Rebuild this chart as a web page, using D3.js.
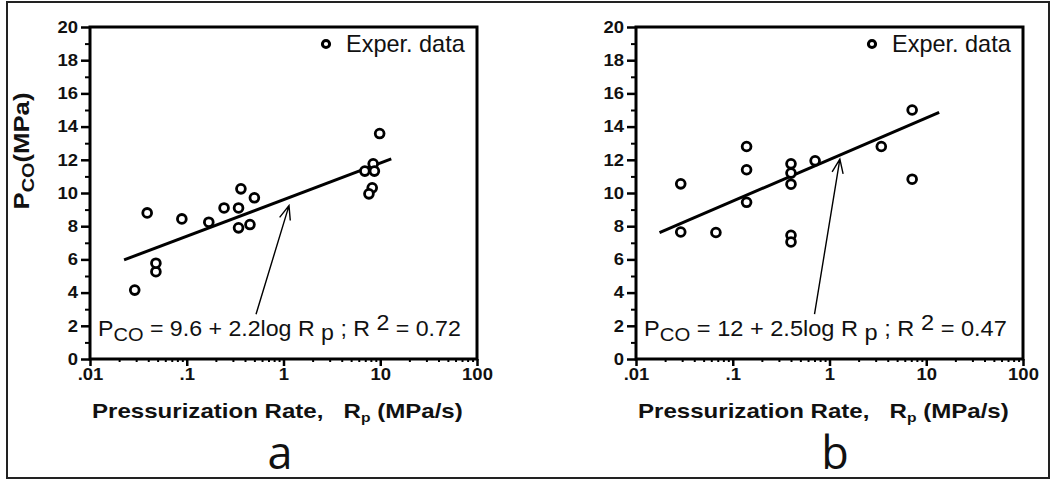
<!DOCTYPE html>
<html lang="en">
<head>
<meta charset="UTF-8">
<title>Pco vs pressurization rate</title>
<script src="https://d3js.org/d3.v7.min.js"></script>
<style>
  body { margin: 0; background: #fff; }
  svg { font-family: "Liberation Sans", Arial, Helvetica, sans-serif; }
  text { white-space: pre; }
</style>
</head>
<body>
<svg id="chart" width="1055" height="481"></svg>
<script>
// panel a data
const ratesA = [0.029, 0.048, 0.048, 0.039, 0.089, 0.169, 0.243, 0.343, 0.343, 0.363, 0.45, 0.50, 6.93, 8.45, 8.70, 8.26, 7.64, 9.86];
const pcoA   = [4.15, 5.26, 5.77, 8.80, 8.44, 8.24, 9.10, 9.10, 7.90, 10.25, 8.10, 9.71, 11.32, 11.76, 11.32, 10.31, 9.95, 13.58];
// panel b data
const ratesB = [0.029, 0.029, 0.067, 0.139, 0.139, 0.139, 0.40, 0.40, 0.40, 0.40, 0.40, 0.71, 3.43, 7.15, 7.15];
const pcoB   = [10.55, 7.65, 7.62, 12.8, 11.4, 9.44, 11.76, 11.2, 10.53, 7.45, 7.05, 11.94, 12.8, 15.0, 10.83];

// fitted lines (end points) and arrows (start -> tip), in data units
const fitLineA = [[0.0225, 5.97], [13, 12.05]];
const fitLineB = [[0.0175, 7.62], [13.6, 14.85]];
const arrowA = [[0.52, 2.7], [1.14, 9.24]];
const arrowB = [[0.70, 2.7], [1.28, 12.04]];

const xTicks = [0.01, 0.1, 1, 10, 100];
const xTickLabels = [".01", ".1", "1", "10", "100"];
const yTicks = [0, 2, 4, 6, 8, 10, 12, 14, 16, 18, 20];

const eqA = ["9.6 + 2.2log", "0.72"];
const eqB = ["12 + 2.5log", "0.47"];

const svg = d3.select("#chart");

// outer frame
svg.append("rect")
  .attr("x", 7).attr("y", 2).attr("width", 1042).attr("height", 476)
  .attr("fill", "none").attr("stroke", "#222").attr("stroke-width", 2);

// draws a text and stretches it horizontally to the wanted width
function fitted(parent, x, y, width, anchor, build, rotate) {
  const g = parent.append("g");
  const t = g.append("text").attr("text-anchor", anchor);
  build(t);
  const w = t.node().getBBox().width;
  const s = width / w;
  g.attr("transform", `translate(${x},${y})` + (rotate ? " rotate(-90)" : "") + ` scale(${s},1)`);
  return g;
}

const plotTop = 27, plotBottom = 359, pw = 387;

function drawPanel(left, rates, pco, fit, arrow, eq, letter, letterX, yTitle) {
  const x = d3.scaleLog().domain([0.01, 100]).range([left, left + pw]);
  const y = d3.scaleLinear().domain([0, 20]).range([plotBottom, plotTop]);
  const g = svg.append("g");

  // minor ticks
  const minorX = [];
  [0.01, 0.1, 1, 10].forEach(d => { for (let k = 2; k <= 9; k++) minorX.push(d * k); });
  g.append("g").attr("transform", `translate(0,${plotBottom})`)
    .call(d3.axisBottom(x).tickValues(minorX).tickSize(3).tickFormat(""))
    .call(a => a.select(".domain").remove())
    .selectAll("line").attr("stroke-width", 2);
  g.append("g").attr("transform", `translate(${left},0)`)
    .call(d3.axisLeft(y).tickValues(d3.range(1, 20, 2)).tickSize(5).tickFormat(""))
    .call(a => a.select(".domain").remove())
    .selectAll("line").attr("stroke-width", 2);

  // major ticks + labels
  const xa = g.append("g").attr("transform", `translate(0,${plotBottom})`)
    .call(d3.axisBottom(x).tickValues(xTicks).tickSize(7).tickPadding(2)
      .tickFormat((d, i) => xTickLabels[i]));
  xa.select(".domain").remove();
  xa.selectAll("line").attr("stroke-width", 2.5);
  xa.selectAll("text").attr("font-size", 16.5).attr("font-weight", "bold")
    .attr("font-family", "Liberation Sans, Arial, sans-serif")
    .attr("fill", "#111").attr("transform", "scale(1.12,1)");

  const ya = g.append("g").attr("transform", `translate(${left},0)`)
    .call(d3.axisLeft(y).tickValues(yTicks).tickSize(9).tickPadding(3));
  ya.select(".domain").remove();
  ya.selectAll("line").attr("stroke-width", 2.5);
  ya.selectAll("text").attr("font-size", 16.5).attr("font-weight", "bold")
    .attr("font-family", "Liberation Sans, Arial, sans-serif")
    .attr("fill", "#111").attr("transform", "scale(1.12,1)")
    .attr("x", -12 / 1.12);

  // frame
  g.append("rect")
    .attr("x", left).attr("y", plotTop).attr("width", pw).attr("height", plotBottom - plotTop)
    .attr("fill", "none").attr("stroke", "#000").attr("stroke-width", 3);

  // fitted line
  g.append("path")
    .datum(fit)
    .attr("fill", "none").attr("stroke", "#000").attr("stroke-width", 3)
    .attr("d", d3.line().x(d => x(d[0])).y(d => y(d[1])));

  // data circles
  g.selectAll("circle.pt")
    .data(rates.map((r, i) => [r, pco[i]]))
    .join("circle")
    .attr("class", "pt")
    .attr("cx", d => x(d[0])).attr("cy", d => y(d[1]))
    .attr("r", 4.4)
    .attr("fill", "#fff").attr("stroke", "#000").attr("stroke-width", 2.8);

  // arrow
  const x0 = x(arrow[0][0]), y0 = y(arrow[0][1]);
  const x1 = x(arrow[1][0]), y1 = y(arrow[1][1]);
  const ang = Math.atan2(y0 - y1, x0 - x1);
  const hl = 15, spread = 0.38;
  g.append("path")
    .attr("d", `M${x0},${y0}L${x1},${y1}` +
      `M${x1 + hl * Math.cos(ang - spread)},${y1 + hl * Math.sin(ang - spread)}L${x1},${y1}` +
      `L${x1 + hl * Math.cos(ang + spread)},${y1 + hl * Math.sin(ang + spread)}`)
    .attr("fill", "none").attr("stroke", "#000").attr("stroke-width", 1.4);

  // legend
  g.append("circle")
    .attr("cx", left + 236).attr("cy", 44).attr("r", 3.6)
    .attr("fill", "#fff").attr("stroke", "#000").attr("stroke-width", 3);
  fitted(g, left + 256, 52, 119, "start", t => {
    t.attr("font-size", 23).attr("fill", "#111").text("Exper. data");
  });

  // equation
  fitted(g, left + 8, 336, 363, "start", t => {
    t.attr("font-size", 22).attr("fill", "#111");
    t.append("tspan").text("P");
    t.append("tspan").attr("dy", 5).attr("font-size", 19).text("CO");
    t.append("tspan").attr("dy", -5).text(" = " + eq[0] + " R ");
    t.append("tspan").attr("dy", 4).text("p");
    t.append("tspan").attr("dy", -4).text(" ; R ");
    t.append("tspan").attr("dy", -6).text("2");
    t.append("tspan").attr("dy", 6).text(" = " + eq[1]);
  });

  // x axis title
  fitted(g, left + 2, 418, 371, "start", t => {
    t.attr("font-size", 20).attr("font-weight", "bold").attr("fill", "#111");
    t.append("tspan").text("Pressurization Rate,   R");
    t.append("tspan").attr("dy", 4).attr("font-size", 13).text("p");
    t.append("tspan").attr("dy", -4).text(" (MPa/s)");
  });

  // panel letter
  g.append("text")
    .attr("x", letterX).attr("y", 469)
    .attr("text-anchor", "middle")
    .attr("font-family", "Open Sans, sans-serif")
    .attr("font-size", 45).attr("fill", "#111")
    .text(letter);

  if (yTitle) {
    fitted(g, 29, 151, 117, "middle", t => {
      t.attr("font-size", 22).attr("font-weight", "bold").attr("fill", "#111");
      t.append("tspan").text("P");
      t.append("tspan").attr("dy", 5).attr("font-size", 17).text("CO");
      t.append("tspan").attr("dy", -5).text("(MPa)");
    }, true);
  }
}

drawPanel(90, ratesA, pcoA, fitLineA, arrowA, eqA, "a", 280, true);
drawPanel(636, ratesB, pcoB, fitLineB, arrowB, eqB, "b", 835, false);
</script>
</body>
</html>
